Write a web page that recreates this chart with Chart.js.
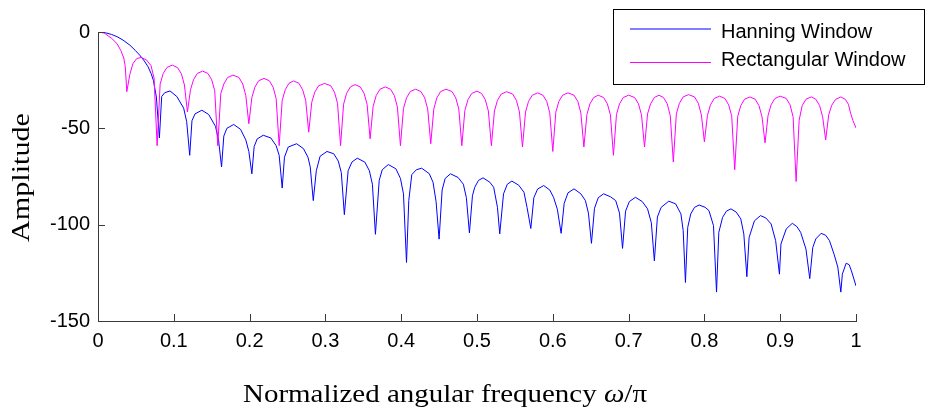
<!DOCTYPE html>
<html><head><meta charset="utf-8">
<script src="https://cdn.jsdelivr.net/npm/chart.js@4"></script>
<style>html,body{margin:0;padding:0;background:#fff;}canvas{display:block;}</style>
</head><body>
<canvas id="c" width="928" height="412"></canvas>
<script>
// ---- data ----
const seriesNames = ['Hanning Window', 'Rectangular Window'];
const seriesColors = ['#0000ff', '#ff00ff'];

const hanX = [
0,0.010,0.018,0.025,0.033,0.042,0.049,0.055,0.061,0.066,0.070,0.073,0.077,0.081,
0.084,0.088,0.095,0.104,0.113,0.117,0.121,
0.124,0.128,0.137,0.146,0.155,0.159,0.163,
0.166,0.170,0.179,0.188,0.195,0.199,0.203,
0.206,0.210,0.218,0.228,0.235,0.239,0.243,
0.246,0.251,0.262,0.271,0.277,0.280,0.284,
0.288,0.293,0.302,0.311,0.317,0.321,0.325,
0.330,0.335,0.342,0.352,0.358,0.362,0.366,
0.371,0.375,0.383,0.393,0.399,0.403,0.407,
0.410,0.414,0.420,0.427,0.437,0.442,0.446,0.450,
0.454,0.458,0.465,0.475,0.482,0.486,0.490,
0.494,0.497,0.502,0.508,0.517,0.522,0.527,0.530,
0.535,0.540,0.546,0.555,0.562,0.566,0.571,
0.575,0.580,0.588,0.596,0.601,0.606,0.611,
0.615,0.620,0.628,0.637,0.643,0.647,0.651,
0.655,0.660,0.667,0.676,0.683,0.688,0.692,
0.696,0.701,0.709,0.718,0.725,0.730,0.734,
0.738,0.743,0.753,0.762,0.769,0.772,0.775,
0.778,0.782,0.787,0.793,0.801,0.806,0.812,0.816,
0.819,0.824,0.829,0.835,0.842,0.848,0.852,0.856,
0.859,0.866,0.874,0.881,0.888,0.894,0.899,
0.901,0.908,0.916,0.922,0.927,0.934,0.939,
0.943,0.947,0.954,0.960,0.965,0.971,0.976,0.980,
0.982,0.987,0.991,0.994,1.000];
const hanY = [
0,-0.4,-1.3,-2.4,-4.2,-6.8,-9.5,-12,-15,-18,-21.5,-25,-33.7,-55,
-33.5,-31.5,-30.6,-33.5,-39.5,-46.5,-64,
-46,-42.5,-40.6,-42.8,-49,-56,-70,
-54,-50,-48,-50.5,-56,-62,-73.6,
-59.5,-55.5,-53.6,-55,-59,-64,-81,
-65,-59.7,-58,-60.5,-65,-70,-87.5,
-72,-64.5,-62,-63.2,-67,-73,-94.8,
-72,-67.5,-65.5,-67.5,-72,-79,-105,
-77,-71.5,-68.8,-71,-76,-84,-119.6,
-87.5,-74,-71.5,-70.7,-73.5,-78,-88,-107.5,
-82,-76,-73.6,-75.5,-79,-86,-104.3,
-85,-80.6,-77,-75.7,-78,-80.6,-91,-104.8,
-84,-79,-77.4,-79.5,-83.2,-91,-102,
-86,-81.5,-79.7,-82,-85.8,-92,-104.5,
-89,-83.5,-81.4,-84,-87.5,-94,-109.7,
-91.5,-86,-84,-85.5,-87.5,-94,-112.3,
-93,-88,-85.8,-88,-91.8,-99,-118.8,
-96,-91,-87.8,-89.2,-94.4,-103,-130,
-101.4,-94.4,-91,-89.8,-91,-92.7,-100.5,-135,
-104,-96.2,-93,-91.8,-93.5,-97,-104.8,-127,
-106.6,-98,-95.3,-96.5,-99.6,-108.3,-125.7,
-110,-102.2,-99.3,-101,-104,-112.7,-128,
-111.8,-107.4,-104.5,-105.5,-108.3,-115.3,-122,-135,
-125.7,-120,-120.8,-124,-131.8];

const rectX = [
0,0.008,0.018,0.025,0.030,0.034,0.036,0.038,
0.042,0.046,0.051,0.057,0.064,0.070,0.074,0.078,
0.082,0.086,0.091,0.098,0.105,0.110,0.114,0.118,
0.122,0.126,0.131,0.138,0.145,0.150,0.154,0.158,
0.162,0.166,0.171,0.178,0.186,0.191,0.195,0.199,
0.203,0.207,0.212,0.219,0.226,0.231,0.235,0.239,
0.243,0.247,0.252,0.258,0.265,0.270,0.274,0.278,
0.282,0.286,0.291,0.299,0.307,0.312,0.316,0.320,
0.324,0.328,0.333,0.339,0.346,0.351,0.355,0.359,
0.363,0.367,0.372,0.379,0.386,0.391,0.395,0.399,
0.403,0.407,0.412,0.419,0.426,0.431,0.435,0.439,
0.443,0.447,0.452,0.459,0.467,0.472,0.476,0.480,
0.484,0.488,0.493,0.500,0.506,0.511,0.515,0.519,
0.523,0.527,0.532,0.539,0.547,0.552,0.556,0.560,
0.564,0.568,0.573,0.580,0.587,0.592,0.596,0.600,
0.604,0.608,0.613,0.620,0.628,0.633,0.637,0.641,
0.645,0.649,0.654,0.660,0.667,0.672,0.676,0.680,
0.684,0.688,0.693,0.700,0.708,0.713,0.717,0.721,
0.725,0.729,0.734,0.740,0.746,0.751,0.755,0.759,
0.763,0.767,0.772,0.779,0.787,0.792,0.796,0.800,
0.804,0.808,0.813,0.820,0.827,0.832,0.836,0.840,
0.844,0.848,0.853,0.860,0.867,0.872,0.876,0.880,
0.884,0.888,0.893,0.900,0.908,0.913,0.917,0.921,
0.925,0.929,0.934,0.941,0.947,0.952,0.956,0.960,
0.964,0.968,0.973,0.980,0.986,0.990,0.993,0.996,1.000];
const rectY = [
0,-0.5,-3.3,-6,-9.5,-13.5,-18,-31,
-22,-16.5,-13.8,-13.2,-14.5,-17.5,-24,-59,
-27,-21.5,-18.4,-17.2,-18.5,-21.7,-27.5,-41.5,
-30,-24.8,-21.5,-20.3,-21.5,-24.8,-30.5,-59,
-32,-27,-23.6,-22.4,-23.6,-27,-33,-47.6,
-34,-28.6,-25.3,-24.1,-25.3,-28.6,-34.5,-59,
-35.5,-30,-26.6,-25.4,-26.6,-30,-35.5,-52,
-36.5,-31.2,-27.9,-26.7,-27.9,-31.2,-37,-59,
-37.5,-31.8,-28.5,-27.3,-28.5,-31.8,-37.5,-55.4,
-38.5,-33,-29.7,-28.5,-29.7,-33,-39,-59,
-39.7,-34.2,-30.9,-29.7,-30.9,-34.2,-40,-58,
-40,-34.2,-30.9,-29.7,-30.9,-34.2,-40,-59,
-40.7,-35.2,-31.9,-30.7,-31.9,-35.2,-41,-59,
-41,-35.5,-32.2,-31,-32.2,-35.5,-41.5,-59.7,
-41.6,-36,-32.8,-31.6,-32.8,-36,-42,-62,
-41.6,-36,-32.8,-31.6,-32.8,-36,-42,-59.7,
-42.8,-37.3,-34,-32.8,-34,-37.3,-43,-64,
-42.8,-37.3,-34,-32.8,-34,-37.3,-43,-59.7,
-42.5,-37.3,-34,-32.8,-34,-37.3,-43.5,-67.5,
-42.5,-37,-33.7,-32.5,-33.7,-37,-43,-57,
-43.3,-37.8,-34.5,-33.3,-34.5,-37.8,-43.5,-71.5,
-43.7,-38.2,-34.9,-33.7,-34.9,-38.2,-44,-57.5,
-43.3,-37.8,-34.5,-33.3,-34.5,-37.8,-44,-77.6,
-45.8,-38.2,-34.9,-33.7,-34.9,-38.2,-44,-56,
-43,-38,-35,-33.7,-35,-37.5,-42.3,-46,-49.8];

const xTicks = [0,0.1,0.2,0.3,0.4,0.5,0.6,0.7,0.8,0.9,1];
const xTickLabels = ['0','0.1','0.2','0.3','0.4','0.5','0.6','0.7','0.8','0.9','1'];
const yTicks = [-150,-100,-50,0];
const yTickLabels = ['-150','-100','-50','0'];
const xTitleParts = ['Normalized angular frequency ', '\u03c9', '/\u03c0'];
const yTitle = 'Amplitude';

// ---- drawing ----
const AXIS = '#3a3a3a';
const TICKFONT = {family: '"Liberation Sans", Arial, Helvetica, sans-serif', size: 20};
const SERIF = '"Liberation Serif", "Times New Roman", serif';

const decor = {
  id: 'decor',
  afterDraw(chart) {
    const {ctx, chartArea: a, scales: {x, y}} = chart;
    ctx.save();
    // inward tick marks
    ctx.strokeStyle = AXIS; ctx.lineWidth = 1;
    ctx.beginPath();
    xTicks.forEach(v => { const p = Math.round(x.getPixelForValue(v)) + 0.5; ctx.moveTo(p, a.bottom); ctx.lineTo(p, a.bottom - 7); });
    yTicks.forEach(v => { const p = Math.round(y.getPixelForValue(v)) + 0.5; ctx.moveTo(a.left, p); ctx.lineTo(a.left + 7, p); });
    ctx.stroke();

    // x axis title
    ctx.fillStyle = '#000';
    ctx.textBaseline = 'alphabetic';
    ctx.textAlign = 'left';
    const fN = '25px ' + SERIF, fI = 'italic 25px ' + SERIF;
    const fonts = [fN, fI, fN];
    const widths = xTitleParts.map((t, i) => { ctx.font = fonts[i]; return ctx.measureText(t).width; });
    const total = widths.reduce((s, w) => s + w, 0);
    const targetW = 404, sx = targetW / total;
    ctx.save();
    ctx.translate(445 - targetW / 2, 402);
    ctx.scale(sx, 1);
    let cx = 0;
    xTitleParts.forEach((t, i) => { ctx.font = fonts[i]; ctx.fillText(t, cx, 0); cx += widths[i]; });
    ctx.restore();

    // y axis title
    ctx.save();
    ctx.font = fN;
    const yw = ctx.measureText(yTitle).width;
    const sy = 129 / yw;
    ctx.translate(29, (a.top + a.bottom) / 2 + 1);
    ctx.rotate(-Math.PI / 2);
    ctx.scale(sy, 1);
    ctx.textAlign = 'center';
    ctx.fillText(yTitle, 0, 0);
    ctx.restore();

    // legend box
    ctx.fillStyle = '#fff';
    ctx.fillRect(613.5, 9.5, 311, 75);
    ctx.strokeStyle = '#000'; ctx.lineWidth = 1;
    ctx.strokeRect(613.5, 9.5, 311, 75);
    const rows = [{ly: 29, ty: 38}, {ly: 62.5, ty: 66}];
    chart.data.datasets.forEach((ds, i) => {
      ctx.strokeStyle = ds.borderColor; ctx.lineWidth = 1;
      ctx.beginPath(); ctx.moveTo(630, rows[i].ly); ctx.lineTo(711, rows[i].ly); ctx.stroke();
      ctx.fillStyle = '#000';
      ctx.font = '20px "Liberation Sans", Arial, sans-serif';
      ctx.textAlign = 'left';
      ctx.fillText(ds.label, 721, rows[i].ty);
    });
    ctx.restore();
  }
};

new Chart(document.getElementById('c'), {
  type: 'line',
  data: {
    datasets: [
      {label: seriesNames[0], data: hanX.map((v, i) => ({x: v, y: hanY[i]})), borderColor: seriesColors[0], order: 1},
      {label: seriesNames[1], data: rectX.map((v, i) => ({x: v, y: rectY[i]})), borderColor: seriesColors[1], order: 0}
    ]
  },
  options: {
    responsive: false, animation: false, devicePixelRatio: 1,
    layout: {padding: {top: 32, right: 72, left: 0, bottom: 0}},
    plugins: {legend: {display: false}, tooltip: {enabled: false}},
    elements: {point: {radius: 0}, line: {tension: 0, borderWidth: 1, fill: false}},
    scales: {
      x: {
        type: 'linear', min: 0, max: 1,
        afterBuildTicks: s => { s.ticks = xTicks.map(v => ({value: v})); },
        afterFit: s => { s.height = 91; },
        grid: {display: false, drawTicks: false},
        border: {display: true, color: AXIS, width: 1},
        ticks: {padding: 8, color: '#000', font: TICKFONT, maxRotation: 0, autoSkip: false,
                callback: (v, i) => xTickLabels[i]}
      },
      y: {
        type: 'linear', min: -150, max: 0,
        afterBuildTicks: s => { s.ticks = yTicks.map(v => ({value: v})); },
        afterFit: s => { s.width = 98; },
        grid: {display: false, drawTicks: false},
        border: {display: true, color: AXIS, width: 1},
        ticks: {padding: 8, color: '#000', font: TICKFONT, autoSkip: false,
                callback: (v, i) => yTickLabels[i]}
      }
    }
  },
  plugins: [decor]
});
</script>
</body></html>
